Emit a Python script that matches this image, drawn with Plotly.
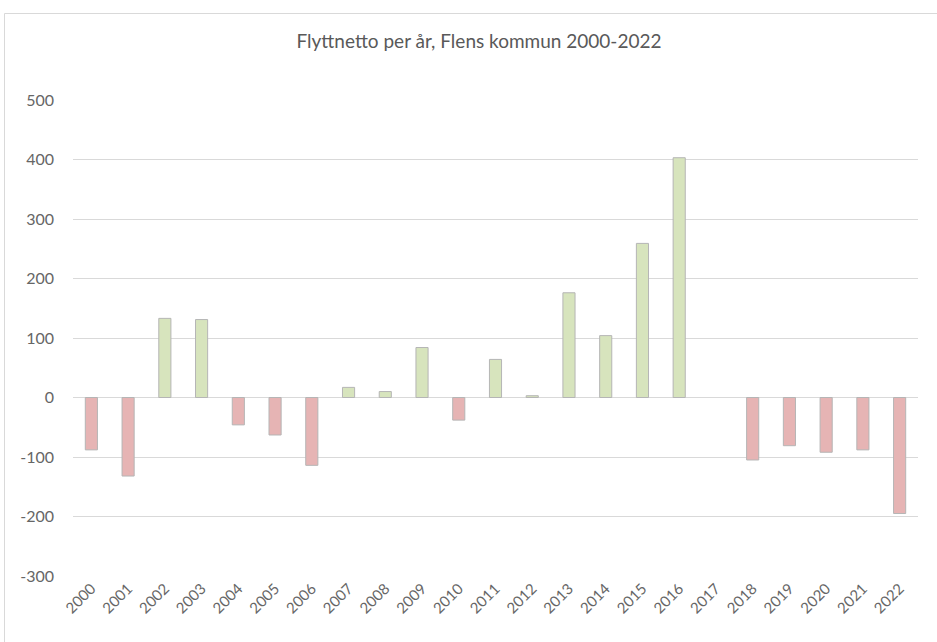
import plotly.graph_objects as go

years = [str(y) for y in range(2000, 2023)]
values = [-88, -132, 133, 131, -46, -63, -114, 17, 10, 84, -38, 64, 3, 176, 104, 259, 403, 0, -105, -81, -92, -88, -195]
ytick_vals = [-300, -200, -100, 0, 100, 200, 300, 400, 500]
ytick_text = ["-300", "-200", "-100", "0", "100", "200", "300", "400", "500"]

pos_color = "#D7E4BD"
neg_color = "#E6B4B4"
colors = [pos_color if v >= 0 else neg_color for v in values]
outline_widths = [1 if v != 0 else 0 for v in values]

fig = go.Figure()
fig.add_trace(go.Bar(
    x=years, y=values,
    marker=dict(color=colors, line=dict(color="#B5B5B5", width=outline_widths)),
    width=0.33,
))

L, R, T, B = 73, 19, 100, 66
W, H = 937, 642
pw = W - L - R
ph = H - T - B

def px_to_paper_x(px):
    return (px - L) / pw

def px_to_paper_y(py):
    return (H - B - py) / ph

fig.add_shape(type="rect", xref="paper", yref="paper",
              x0=px_to_paper_x(4.5), x1=px_to_paper_x(960),
              y0=px_to_paper_y(680), y1=px_to_paper_y(13.5),
              line=dict(color="#D9D9D9", width=1), fillcolor="rgba(0,0,0,0)", layer="below")

font_family = "Lato, Open Sans, sans-serif"
fig.update_layout(
    width=W, height=H,
    margin=dict(l=L, r=R, t=T, b=B),
    paper_bgcolor="white", plot_bgcolor="white",
    showlegend=False,
    title=dict(text="Flyttnetto per år, Flens kommun 2000-2022",
               x=(479 - 0) / W, xanchor="center", y=1 - 41 / H, yanchor="middle",
               font=dict(family=font_family, size=19, color="#595959")),
    font=dict(family=font_family, size=16, color="#595959"),
    bargap=0.67,
)
fig.update_xaxes(type="category", tickangle=-45, showgrid=False, showline=False,
                 ticks="", tickfont=dict(size=15, color="#666666"))
fig.update_yaxes(range=[-300, 500], tickvals=ytick_vals, ticktext=ytick_text,
                 showgrid=True, gridcolor="#D9D9D9", gridwidth=1,
                 zeroline=True, zerolinecolor="#D9D9D9", zerolinewidth=1,
                 ticks="", ticklabelstandoff=18,
                 tickfont=dict(size=16, color="#666666"))

fig.write_html("out.html", config={"displayModeBar": False},
               post_script="document.body.style.margin='0';")
